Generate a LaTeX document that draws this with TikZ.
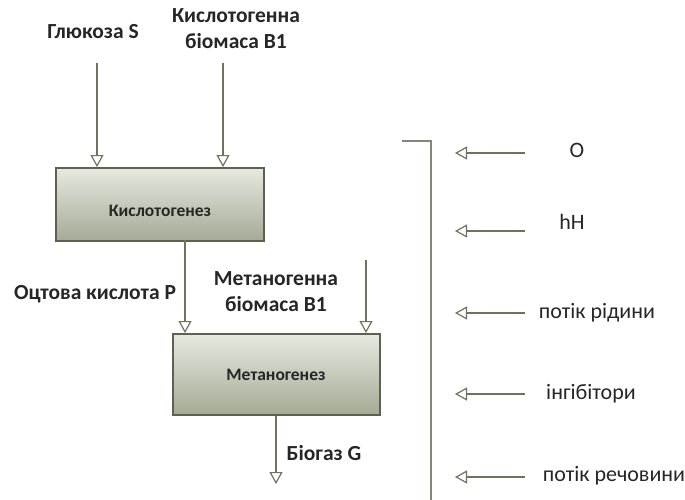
\documentclass[tikz,border=0pt]{standalone}
\usepackage{fontspec}
\setmainfont{Carlito}
\usetikzlibrary{arrows.meta}
\definecolor{lineol}{HTML}{6F735B}
\definecolor{boxedge}{HTML}{5C6150}
\definecolor{boxtop}{HTML}{E6E9DF}
\definecolor{boxbot}{HTML}{A5AA96}
\definecolor{brk}{HTML}{85867A}
\tikzset{
  flow/.style={draw=lineol, line width=1.4pt, -{Triangle[open, width=13pt, length=12pt, line width=1.2pt]}},
  procbox/.style={draw=boxedge, line width=2pt, top color=boxtop, bottom color=boxbot, anchor=north west, inner sep=0pt},
  lbl/.style={font=\bfseries\fontsize{21.5}{26}\selectfont, align=center, text=black!85},
  boxlbl/.style={font=\bfseries\fontsize{17.5}{20}\selectfont, text=black!85},
  rlbl/.style={font=\fontsize{22}{26}\selectfont, text=black!85},
}
\begin{document}
\begin{tikzpicture}[x=1pt,y=-1pt]
\useasboundingbox (0,0) rectangle (685,500);
% boxes
\node[procbox, minimum width=208pt, minimum height=73pt] (b1) at (55,167) {};
\node[boxlbl] (b1t) at (160,211) {Кислотогенез};
\node[procbox, minimum width=207pt, minimum height=81pt] (b2) at (172,333) {};
\node[boxlbl] (b2t) at (276,375) {Метаногенез};
% labels
\node[lbl] (s) at (93,32) {Глюкоза S};
\node[lbl] (bio1) at (236,29) {Кислотогенна\\біомаса В1};
\node[lbl] (p) at (95,294) {Оцтова кислота P};
\node[lbl] (bio2) at (276,292) {Метаногенна\\біомаса В1};
\node[lbl] (g) at (324,453) {Біогаз G};
% coordinates
\coordinate (sa) at (97,63);
\coordinate (ba) at (223,63);
\coordinate (ma) at (366,260);
\coordinate (ge) at (276,484);
% top arrows
\draw[flow] (sa) -- (sa |- b1.north);
\draw[flow] (ba) -- (ba |- b1.north);
\coordinate (pa) at (185,240);
\draw[flow] (pa) -- (pa |- b2.north);
\draw[flow] (ma) -- (ma |- b2.north);
\draw[flow] (b2.south -| ge) -- (ge);
% bracket
\coordinate (k1) at (402,141);
\coordinate (k2) at (431,141);
\coordinate (k3) at (431,500);
\draw[brk, line width=1.4pt] (k1) -- (k2) -- (k3);
% right labels and arrows
\node[rlbl] (r1) at (577,150) {O};
\node[rlbl] (r2) at (572,222) {hH};
\node[rlbl] (r3) at (597,313) {потік рідини};
\node[rlbl] (r4) at (591,394) {інгібітори};
\node[rlbl] (r5) at (614,476) {потік речовини};
\foreach \y/\n in {153/1,231/2,313/3,394/4,477/5}{
  \coordinate (t\n) at (525,\y);
  \coordinate (h\n) at (455,\y);
  \draw[flow] (t\n) -- (h\n);
}
\end{tikzpicture}
\end{document}
